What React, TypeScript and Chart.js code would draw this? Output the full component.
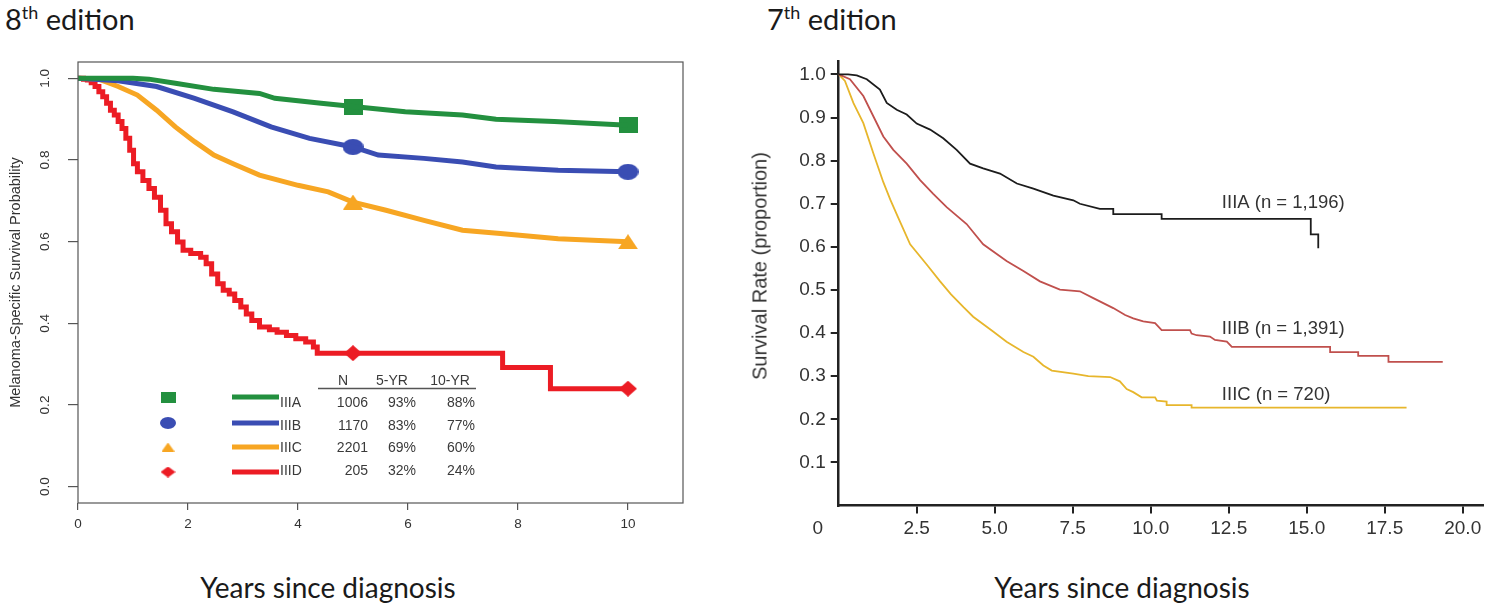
import React, { useEffect, useRef } from 'react';
import { Chart, registerables } from 'chart.js';

Chart.register(...registerables);

const FONT = '"Liberation Sans", Arial, Helvetica, sans-serif';

// ---------------- 8th edition (left) ----------------
const stages8 = ['IIIA', 'IIIB', 'IIIC', 'IIID'];
const n8 = ['1006', '1170', '2201', '205'];
const yr5 = ['93%', '83%', '69%', '32%'];
const yr10 = ['88%', '77%', '60%', '24%'];
const tableHeader8 = ['N', '5-YR', '10-YR'];
const colors8 = ['#23903f', '#3a4db3', '#f7a623', '#ec1c24'];
const markerShapes8 = ['square', 'circle', 'triangle', 'diamond'];
const xTicks8 = [0, 2, 4, 6, 8, 10];
const xTickLabels8 = ['0', '2', '4', '6', '8', '10'];
const yTicks8 = [0, 0.2, 0.4, 0.6, 0.8, 1.0];
const yTickLabels8 = ['0.0', '0.2', '0.4', '0.6', '0.8', '1.0'];

const t8A = [0, 1.0, 1.29, 1.77, 2.47, 3.3, 3.58, 4.42, 5.0, 5.95, 6.99, 7.6, 8.66, 10];
const s8A = [1.0, 1.0, 0.998, 0.988, 0.973, 0.963, 0.951, 0.939, 0.931, 0.918, 0.91, 0.9, 0.894, 0.885];
const t8B = [0, 0.73, 1.43, 2.12, 2.82, 3.51, 4.21, 5.0, 5.46, 6.29, 6.99, 7.6, 8.73, 10];
const s8B = [1.0, 0.994, 0.98, 0.951, 0.918, 0.881, 0.853, 0.832, 0.812, 0.804, 0.795, 0.783, 0.775, 0.771];
const t8C = [0, 0.38, 0.73, 1.08, 1.43, 1.77, 2.12, 2.47, 2.82, 3.3, 4.0, 4.55, 5.0, 5.6, 6.29, 6.99, 7.68, 8.73, 10];
const s8C = [1.0, 0.998, 0.98, 0.959, 0.922, 0.881, 0.845, 0.812, 0.791, 0.763, 0.738, 0.722, 0.697, 0.677, 0.652, 0.628, 0.62, 0.607, 0.6];
const t8D = [0, 0.1, 0.17, 0.24, 0.31, 0.38, 0.45, 0.52, 0.59, 0.66, 0.73, 0.8, 0.87, 0.94, 1.01, 1.08, 1.18, 1.29, 1.39, 1.5, 1.6, 1.7, 1.81, 1.91, 2.05, 2.23, 2.33, 2.43, 2.54, 2.64, 2.75, 2.85, 2.96, 3.06, 3.16, 3.3, 3.48, 3.62, 3.79, 3.96, 4.14, 4.28, 4.35, 7.72, 8.59, 10];
const s8D = [1.0, 0.998, 0.996, 0.989, 0.98, 0.967, 0.955, 0.939, 0.922, 0.91, 0.894, 0.877, 0.853, 0.824, 0.791, 0.771, 0.75, 0.73, 0.709, 0.677, 0.644, 0.624, 0.599, 0.579, 0.571, 0.562, 0.546, 0.521, 0.497, 0.481, 0.472, 0.456, 0.44, 0.423, 0.407, 0.391, 0.384, 0.378, 0.37, 0.362, 0.354, 0.342, 0.327, 0.292, 0.24, 0.24];

const markerX8 = [5, 10];
const markerA = [0.931, 0.885];
const markerB = [0.832, 0.771];
const markerC = [0.697, 0.6];
const markerD = [0.327, 0.24];

// ---------------- 7th edition (right) ----------------
const labels7 = ['IIIA (n = 1,196)', 'IIIB (n = 1,391)', 'IIIC (n = 720)'];
const labelX7 = [12.28, 12.28, 12.28];
const labelY7 = [0.702, 0.409, 0.257];
const colors7 = ['#1c1c1c', '#c0504d', '#e7b62c'];
const xTicks7 = [2.5, 5, 7.5, 10, 12.5, 15, 17.5, 20];
const xTickLabels7 = ['2.5', '5.0', '7.5', '10.0', '12.5', '15.0', '17.5', '20.0'];
const yTicks7 = [0.1, 0.2, 0.3, 0.4, 0.5, 0.6, 0.7, 0.8, 0.9, 1.0];
const yTickLabels7 = ['0.1', '0.2', '0.3', '0.4', '0.5', '0.6', '0.7', '0.8', '0.9', '1.0'];
const originLabel7 = '0';

const t7A = [0, 0.3, 0.58, 0.9, 1.32, 1.54, 1.86, 2.18, 2.5, 2.93, 3.35, 3.78, 4.21, 4.63, 5.17, 5.71, 6.24, 6.88, 7.52, 7.73, 8.37, 8.8, 8.8, 10.35, 10.35, 15.13, 15.13, 15.37, 15.37];
const s7A = [1.0, 1.0, 0.998, 0.989, 0.965, 0.934, 0.918, 0.907, 0.886, 0.872, 0.852, 0.825, 0.793, 0.782, 0.77, 0.747, 0.735, 0.719, 0.708, 0.7, 0.688, 0.688, 0.676, 0.676, 0.665, 0.665, 0.629, 0.629, 0.597];
const t7B = [0, 0.36, 0.79, 1.11, 1.43, 1.75, 2.18, 2.61, 3.03, 3.46, 4.1, 4.63, 5.38, 5.92, 6.45, 7.09, 7.73, 8.16, 8.8, 9.18, 9.44, 9.76, 10.14, 10.35, 11.26, 11.31, 11.47, 11.9, 12.06, 12.44, 12.6, 15.75, 15.75, 16.65, 16.65, 17.62, 17.62, 19.36];
const s7B = [1.0, 0.989, 0.95, 0.903, 0.856, 0.825, 0.793, 0.755, 0.723, 0.692, 0.653, 0.606, 0.567, 0.544, 0.52, 0.501, 0.497, 0.481, 0.458, 0.442, 0.434, 0.427, 0.423, 0.407, 0.407, 0.399, 0.395, 0.392, 0.384, 0.38, 0.368, 0.368, 0.356, 0.356, 0.347, 0.347, 0.333, 0.333];
const t7C = [0, 0.2, 0.47, 0.79, 1.11, 1.43, 1.65, 1.9, 2.29, 2.82, 3.25, 3.6, 4.0, 4.31, 4.96, 5.38, 5.92, 6.24, 6.56, 6.83, 7.52, 8.0, 8.7, 9.01, 9.23, 9.44, 9.71, 10.14, 10.2, 10.51, 10.51, 11.31, 11.31, 18.2];
const s7C = [1.0, 0.985, 0.934, 0.887, 0.817, 0.75, 0.71, 0.669, 0.606, 0.559, 0.52, 0.49, 0.46, 0.438, 0.403, 0.38, 0.356, 0.345, 0.325, 0.313, 0.306, 0.3, 0.298, 0.288, 0.27, 0.263, 0.251, 0.251, 0.243, 0.241, 0.233, 0.233, 0.227, 0.227];

const pts = (t: number[], s: number[]) => t.map((x, i) => ({ x, y: s[i] }));

function makeMarker(shape: string, color: string, w: number, h: number): HTMLCanvasElement {
  const c = document.createElement('canvas');
  c.width = w;
  c.height = h;
  const g = c.getContext('2d')!;
  g.fillStyle = color;
  g.beginPath();
  if (shape === 'square') g.rect(0, 0, w, h);
  else if (shape === 'circle') g.ellipse(w / 2, h / 2, w / 2, h / 2, 0, 0, Math.PI * 2);
  else if (shape === 'triangle') {
    g.moveTo(w / 2, 0);
    g.lineTo(w, h);
    g.lineTo(0, h);
    g.closePath();
  } else {
    g.moveTo(w / 2, 0);
    g.lineTo(w, h / 2);
    g.lineTo(w / 2, h);
    g.lineTo(0, h / 2);
    g.closePath();
  }
  g.fill();
  return c;
}

function leftConfig(): any {
  const curveT = [t8A, t8B, t8C, t8D];
  const curveS = [s8A, s8B, s8C, s8D];
  const markerVals = [markerA, markerB, markerC, markerD];
  const bigSizes = [[19, 16], [21, 16], [20, 15], [18, 16]];
  const smallSizes = [[15, 11], [16, 12], [13, 9], [15, 11]];
  const bigMarkers = markerShapes8.map((s, i) => makeMarker(s, colors8[i], bigSizes[i][0], bigSizes[i][1]));
  const smallMarkers = markerShapes8.map((s, i) => makeMarker(s, colors8[i], smallSizes[i][0], smallSizes[i][1]));

  const lineSets = stages8.map((st, i) => ({
    label: st,
    data: pts(curveT[i], curveS[i]),
    borderColor: colors8[i],
    borderWidth: 5,
    pointRadius: 0,
    fill: false,
    tension: 0,
    stepped: i === 3 ? true : false,
    borderJoinStyle: 'miter',
  }));
  const markerSets = stages8.map((st, i) => ({
    label: st + ' markers',
    data: pts(markerX8, markerVals[i]),
    showLine: false,
    pointStyle: bigMarkers[i],
    pointRadius: 8,
    borderColor: colors8[i],
    backgroundColor: colors8[i],
  }));

  const decor = {
    id: 'leftDecor',
    afterDraw(chart: any) {
      const { ctx, chartArea: a, scales } = chart;
      ctx.save();
      ctx.strokeStyle = '#555';
      ctx.lineWidth = 1.2;
      ctx.strokeRect(a.left, a.top, a.right - a.left, a.bottom - a.top);
      ctx.fillStyle = '#333';
      ctx.font = `13.5px ${FONT}`;
      ctx.textAlign = 'center';
      ctx.textBaseline = 'middle';
      yTicks8.forEach((v, i) => {
        const py = scales.y.getPixelForValue(v);
        ctx.save();
        ctx.translate(a.left - 33, py);
        ctx.rotate(-Math.PI / 2);
        ctx.fillText(yTickLabels8[i], 0, 0);
        ctx.restore();
      });
      // legend table
      const markerRowY = [357, 383, 407, 432];
      const textRowY = [363, 386, 408, 431];
      ctx.font = `14px ${FONT}`;
      ctx.fillStyle = '#3a3a3a';
      ctx.textBaseline = 'middle';
      ctx.textAlign = 'center';
      ctx.fillText(tableHeader8[0], 343, 341);
      ctx.fillText(tableHeader8[1], 392, 341);
      ctx.fillText(tableHeader8[2], 450, 341);
      ctx.strokeStyle = '#555';
      ctx.lineWidth = 1.5;
      ctx.beginPath();
      ctx.moveTo(318, 348.5);
      ctx.lineTo(476, 348.5);
      ctx.stroke();
      stages8.forEach((st, i) => {
        const m = smallMarkers[i];
        ctx.drawImage(m, 168 - m.width / 2, markerRowY[i] - m.height / 2);
        ctx.strokeStyle = colors8[i];
        ctx.lineWidth = 5;
        ctx.beginPath();
        ctx.moveTo(232, markerRowY[i]);
        ctx.lineTo(279, markerRowY[i]);
        ctx.stroke();
        ctx.fillStyle = '#3a3a3a';
        ctx.textAlign = 'left';
        ctx.fillText(st, 280, textRowY[i]);
        ctx.textAlign = 'right';
        ctx.fillText(n8[i], 368, textRowY[i]);
        ctx.fillText(yr5[i], 416, textRowY[i]);
        ctx.fillText(yr10[i], 475, textRowY[i]);
      });
      ctx.restore();
    },
  };

  return {
    type: 'line',
    data: { datasets: [...lineSets, ...markerSets] },
    options: {
      responsive: false,
      animation: false,
      layout: { padding: { left: 0, right: 17, top: 22, bottom: 0 } },
      plugins: { legend: { display: false }, tooltip: { enabled: false } },
      scales: {
        x: {
          type: 'linear',
          min: 0,
          max: 11,
          afterBuildTicks: (s: any) => {
            s.ticks = xTicks8.map((v) => ({ value: v }));
          },
          afterFit: (s: any) => {
            s.height = 57;
          },
          border: { display: false },
          grid: { drawOnChartArea: false, tickLength: 7, color: '#555', lineWidth: 1.2 },
          ticks: {
            color: '#333',
            font: { family: FONT, size: 13.5 },
            padding: 6,
            maxRotation: 0,
            autoSkip: false,
            callback: (_v: any, i: number) => xTickLabels8[i],
          },
        },
        y: {
          type: 'linear',
          min: -0.04,
          max: 1.04,
          afterBuildTicks: (s: any) => {
            s.ticks = yTicks8.map((v) => ({ value: v }));
          },
          afterFit: (s: any) => {
            s.width = 78;
          },
          border: { display: false },
          grid: { drawOnChartArea: false, tickLength: 10, color: '#555', lineWidth: 1.2 },
          ticks: { display: false },
          title: {
            display: true,
            text: 'Melanoma-Specific Survival Probability',
            color: '#333',
            font: { family: FONT, size: 14.5 },
            padding: { top: 7, bottom: 0 },
          },
        },
      },
    },
    plugins: [decor],
  };
}

function rightConfig(): any {
  const curveT = [t7A, t7B, t7C];
  const curveS = [s7A, s7B, s7C];
  const datasets = labels7.map((lb, i) => ({
    label: lb,
    data: pts(curveT[i], curveS[i]),
    borderColor: colors7[i],
    borderWidth: 1.8,
    pointRadius: 0,
    fill: false,
    tension: 0,
  }));

  const decor = {
    id: 'rightDecor',
    afterDraw(chart: any) {
      const { ctx, chartArea: a, scales } = chart;
      ctx.save();
      ctx.fillStyle = '#333';
      ctx.font = `19px ${FONT}`;
      ctx.textAlign = 'center';
      ctx.textBaseline = 'middle';
      ctx.fillText(originLabel7, scales.x.getPixelForValue(0) - 21, a.bottom + 23.5);
      ctx.font = `18.5px ${FONT}`;
      ctx.textAlign = 'left';
      labels7.forEach((lb, i) => {
        ctx.fillText(lb, scales.x.getPixelForValue(labelX7[i]), scales.y.getPixelForValue(labelY7[i]));
      });
      ctx.restore();
    },
  };

  return {
    type: 'line',
    data: { datasets },
    options: {
      responsive: false,
      animation: false,
      layout: { padding: { left: 0, right: 15, top: 21.5, bottom: 0 } },
      plugins: { legend: { display: false }, tooltip: { enabled: false } },
      scales: {
        x: {
          type: 'linear',
          min: 0,
          max: 20.65,
          afterBuildTicks: (s: any) => {
            s.ticks = xTicks7.map((v) => ({ value: v }));
          },
          afterFit: (s: any) => {
            s.height = 54.5;
          },
          border: { display: true, color: '#222', width: 2.5 },
          grid: { drawOnChartArea: false, tickLength: 8, color: '#222', lineWidth: 2 },
          ticks: {
            color: '#333',
            font: { family: FONT, size: 19 },
            padding: 4,
            maxRotation: 0,
            autoSkip: false,
            callback: (_v: any, i: number) => xTickLabels7[i],
          },
        },
        y: {
          type: 'linear',
          min: 0,
          max: 1.03,
          afterBuildTicks: (s: any) => {
            s.ticks = yTicks7.map((v) => ({ value: v }));
          },
          afterFit: (s: any) => {
            s.width = 98.7;
          },
          border: { display: true, color: '#222', width: 2.5 },
          grid: { drawOnChartArea: false, tickLength: 8, color: '#222', lineWidth: 2 },
          ticks: {
            color: '#333',
            font: { family: FONT, size: 19 },
            padding: 5,
            autoSkip: false,
            callback: (_v: any, i: number) => yTickLabels7[i],
          },
        },
      },
    },
    plugins: [decor],
  };
}

const titleFont = 'Lato, "Open Sans", sans-serif';

export default function App() {
  const leftRef = useRef<HTMLCanvasElement>(null);
  const rightRef = useRef<HTMLCanvasElement>(null);

  useEffect(() => {
    const c1 = new Chart(leftRef.current as HTMLCanvasElement, leftConfig());
    const c2 = new Chart(rightRef.current as HTMLCanvasElement, rightConfig());
    return () => {
      c1.destroy();
      c2.destroy();
    };
  }, []);

  const sup: React.CSSProperties = { fontSize: '0.62em', position: 'relative', top: '-0.62em' };

  return (
    <div style={{ position: 'absolute', left: 0, top: 0, width: 1498, height: 611, background: '#fff', overflow: 'hidden' }}>
      <div style={{ position: 'absolute', left: 5, top: 2, fontFamily: titleFont, fontSize: 29, color: '#1a1a1a', whiteSpace: 'nowrap', lineHeight: '34px' }}>
        8<span style={sup}>th</span> edition
      </div>
      <div style={{ position: 'absolute', left: 767, top: 2, fontFamily: titleFont, fontSize: 29, color: '#1a1a1a', whiteSpace: 'nowrap', lineHeight: '34px' }}>
        7<span style={sup}>th</span> edition
      </div>
      <canvas ref={leftRef} width={700} height={520} style={{ position: 'absolute', left: 0, top: 40, width: 700, height: 520 }} />
      <canvas ref={rightRef} width={758} height={520} style={{ position: 'absolute', left: 740, top: 40, width: 758, height: 520 }} />
      <div
        style={{
          position: 'absolute',
          left: 760,
          top: 266,
          transform: 'translate(-50%, -50%) rotate(-90deg)',
          fontFamily: FONT,
          fontSize: 20,
          color: '#333',
          whiteSpace: 'nowrap',
        }}
      >
        Survival Rate (proportion)
      </div>
      <div style={{ position: 'absolute', left: 328, top: 587, transform: 'translate(-50%, -50%)', fontFamily: titleFont, fontSize: 28, color: '#1a1a1a', whiteSpace: 'nowrap' }}>
        Years since diagnosis
      </div>
      <div style={{ position: 'absolute', left: 1122, top: 587, transform: 'translate(-50%, -50%)', fontFamily: titleFont, fontSize: 28, color: '#1a1a1a', whiteSpace: 'nowrap' }}>
        Years since diagnosis
      </div>
    </div>
  );
}
